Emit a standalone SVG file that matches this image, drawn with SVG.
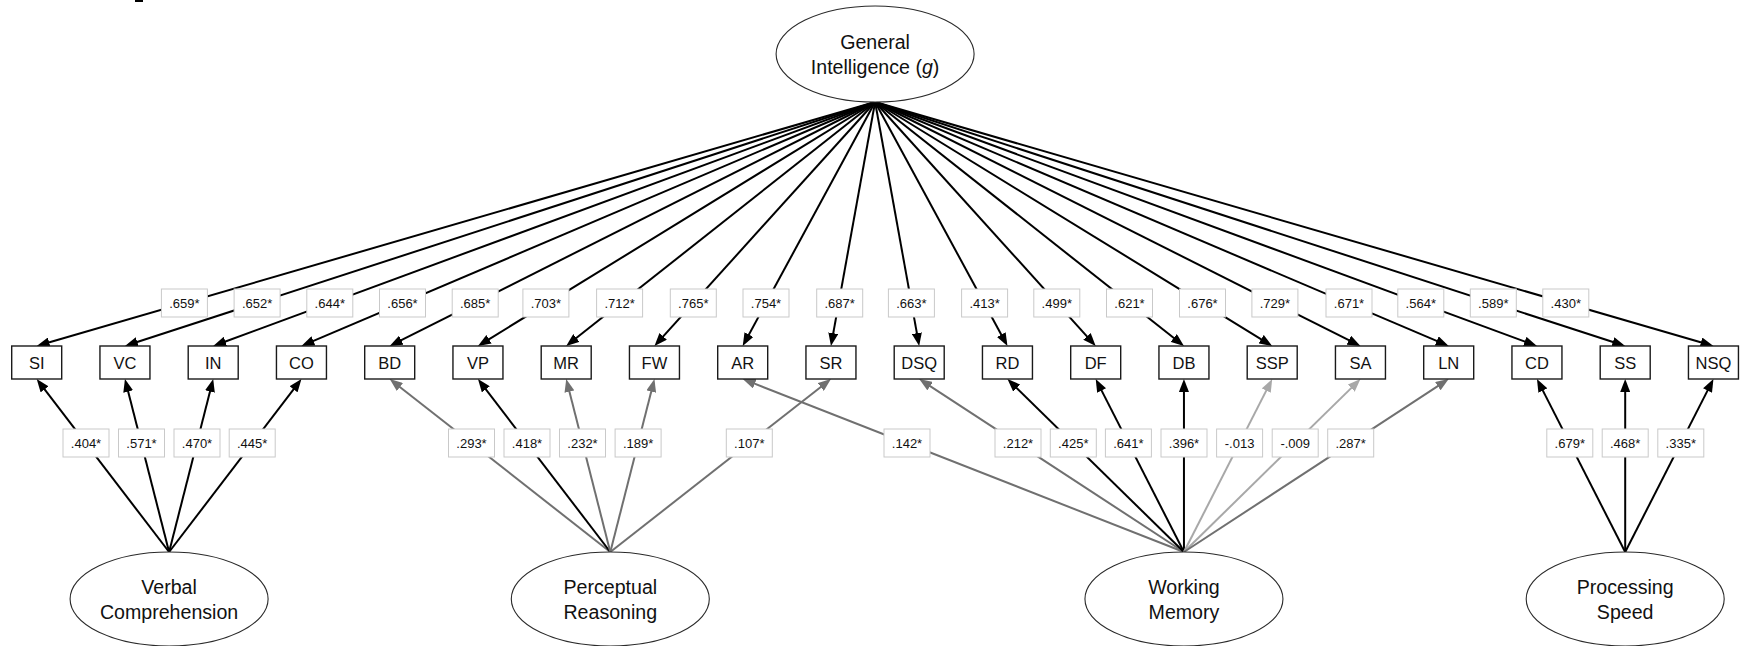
<svg xmlns="http://www.w3.org/2000/svg" width="1741" height="646" viewBox="0 0 1741 646">
<style>
.box{fill:#fff;stroke:#1a1a1a;stroke-width:1.4}
.ell{fill:#fff;stroke:#2a2a2a;stroke-width:1.1}
.bt{font-family:"Liberation Sans",Arial,sans-serif;font-size:16.5px;fill:#111;text-anchor:middle}
.et{font-family:"Liberation Sans",Arial,sans-serif;font-size:19.6px;fill:#111;text-anchor:middle}
.lb{fill:#fff;stroke:#c9c9c9;stroke-width:1}
.lt{font-family:"Liberation Sans",Arial,sans-serif;font-size:13px;fill:#111;text-anchor:middle}
.k{stroke:#000;stroke-width:2;fill:none;marker-end:url(#ak)}
.g{stroke:#707070;stroke-width:2;fill:none;marker-end:url(#ag)}
.l{stroke:#a8a8a8;stroke-width:2;fill:none;marker-end:url(#al)}
</style>
<defs>
<marker id="ak" viewBox="0 0 13 10" markerWidth="13" markerHeight="10" refX="5" refY="5" orient="auto" markerUnits="userSpaceOnUse"><path d="M0,0 L13,5 L0,10 z" fill="#000"/></marker>
<marker id="ag" viewBox="0 0 13 10" markerWidth="13" markerHeight="10" refX="5" refY="5" orient="auto" markerUnits="userSpaceOnUse"><path d="M0,0 L13,5 L0,10 z" fill="#707070"/></marker>
<marker id="al" viewBox="0 0 13 10" markerWidth="13" markerHeight="10" refX="5" refY="5" orient="auto" markerUnits="userSpaceOnUse"><path d="M0,0 L13,5 L0,10 z" fill="#a8a8a8"/></marker>
</defs>
<rect x="135" y="0" width="8" height="2" fill="#000"/>
<g id="connectors">
<line class="k" x1="875.1" y1="102" x2="44.38" y2="343.76"/>
<line class="k" x1="875.1" y1="102" x2="132.56" y2="343.53"/>
<line class="k" x1="875.1" y1="102" x2="220.71" y2="343.23"/>
<line class="k" x1="875.1" y1="102" x2="308.81" y2="342.87"/>
<line class="k" x1="875.1" y1="102" x2="396.85" y2="342.41"/>
<line class="k" x1="875.1" y1="102" x2="484.77" y2="341.81"/>
<line class="k" x1="875.1" y1="102" x2="572.48" y2="341.04"/>
<line class="k" x1="875.1" y1="102" x2="659.82" y2="340.07"/>
<line class="k" x1="875.1" y1="102" x2="746.52" y2="338.97"/>
<line class="k" x1="875.1" y1="102" x2="832.37" y2="338.13"/>
<line class="k" x1="875.1" y1="102" x2="917.78" y2="338.13"/>
<line class="k" x1="875.1" y1="102" x2="1003.64" y2="338.97"/>
<line class="k" x1="875.1" y1="102" x2="1090.33" y2="340.07"/>
<line class="k" x1="875.1" y1="102" x2="1177.67" y2="341.04"/>
<line class="k" x1="875.1" y1="102" x2="1265.38" y2="341.81"/>
<line class="k" x1="875.1" y1="102" x2="1353.30" y2="342.41"/>
<line class="k" x1="875.1" y1="102" x2="1441.34" y2="342.87"/>
<line class="k" x1="875.1" y1="102" x2="1529.44" y2="343.23"/>
<line class="k" x1="875.1" y1="102" x2="1617.59" y2="343.53"/>
<line class="k" x1="875.1" y1="102" x2="1705.77" y2="343.76"/>
<line class="k" x1="169.1" y1="552" x2="41.56" y2="385.35"/>
<line class="k" x1="169.1" y1="552" x2="126.93" y2="386.75"/>
<line class="k" x1="169.1" y1="552" x2="211.22" y2="386.75"/>
<line class="k" x1="169.1" y1="552" x2="296.59" y2="385.35"/>
<line class="g" x1="610.3" y1="552" x2="396.0" y2="383.94"/>
<line class="k" x1="610.3" y1="552" x2="482.81" y2="385.35"/>
<line class="g" x1="610.3" y1="552" x2="568.18" y2="386.75"/>
<line class="g" x1="610.3" y1="552" x2="652.47" y2="386.75"/>
<line class="g" x1="610.3" y1="552" x2="824.65" y2="383.94"/>
<line class="g" x1="1183.95" y1="552" x2="750.15" y2="381.92"/>
<line class="g" x1="1183.95" y1="552" x2="925.9" y2="383.38"/>
<line class="k" x1="1183.95" y1="552" x2="1013.16" y2="384.6"/>
<line class="k" x1="1183.95" y1="552" x2="1099.34" y2="386.13"/>
<line class="k" x1="1183.95" y1="552" x2="1183.95" y2="387"/>
<line class="l" x1="1183.95" y1="552" x2="1268.56" y2="386.13"/>
<line class="l" x1="1183.95" y1="552" x2="1354.74" y2="384.6"/>
<line class="g" x1="1183.95" y1="552" x2="1442.0" y2="383.38"/>
<line class="k" x1="1625.2" y1="552" x2="1540.59" y2="386.13"/>
<line class="k" x1="1625.2" y1="552" x2="1625.2" y2="387"/>
<line class="k" x1="1625.2" y1="552" x2="1709.81" y2="386.13"/>
</g>
<g id="loadings">
<rect class="lb" x="161.4" y="289" width="46" height="28"/><text class="lt" x="184.4" y="307.5">.659*</text>
<rect class="lb" x="234.1" y="289" width="46" height="28"/><text class="lt" x="257.1" y="307.5">.652*</text>
<rect class="lb" x="306.8" y="289" width="46" height="28"/><text class="lt" x="329.8" y="307.5">.644*</text>
<rect class="lb" x="379.5" y="289" width="46" height="28"/><text class="lt" x="402.5" y="307.5">.656*</text>
<rect class="lb" x="452.2" y="289" width="46" height="28"/><text class="lt" x="475.2" y="307.5">.685*</text>
<rect class="lb" x="522.9" y="289" width="46" height="28"/><text class="lt" x="545.9" y="307.5">.703*</text>
<rect class="lb" x="596.6" y="289" width="46" height="28"/><text class="lt" x="619.6" y="307.5">.712*</text>
<rect class="lb" x="670.3" y="289" width="46" height="28"/><text class="lt" x="693.3" y="307.5">.765*</text>
<rect class="lb" x="743.0" y="289" width="46" height="28"/><text class="lt" x="766.0" y="307.5">.754*</text>
<rect class="lb" x="816.7" y="289" width="46" height="28"/><text class="lt" x="839.7" y="307.5">.687*</text>
<rect class="lb" x="888.4" y="289" width="46" height="28"/><text class="lt" x="911.4" y="307.5">.663*</text>
<rect class="lb" x="961.6" y="289" width="46" height="28"/><text class="lt" x="984.6" y="307.5">.413*</text>
<rect class="lb" x="1033.8" y="289" width="46" height="28"/><text class="lt" x="1056.8" y="307.5">.499*</text>
<rect class="lb" x="1106.5" y="289" width="46" height="28"/><text class="lt" x="1129.5" y="307.5">.621*</text>
<rect class="lb" x="1179.5" y="289" width="46" height="28"/><text class="lt" x="1202.5" y="307.5">.676*</text>
<rect class="lb" x="1251.9" y="289" width="46" height="28"/><text class="lt" x="1274.9" y="307.5">.729*</text>
<rect class="lb" x="1326.0" y="289" width="46" height="28"/><text class="lt" x="1349.0" y="307.5">.671*</text>
<rect class="lb" x="1397.8" y="289" width="46" height="28"/><text class="lt" x="1420.8" y="307.5">.564*</text>
<rect class="lb" x="1470.3" y="289" width="46" height="28"/><text class="lt" x="1493.3" y="307.5">.589*</text>
<rect class="lb" x="1542.8" y="289" width="46" height="28"/><text class="lt" x="1565.8" y="307.5">.430*</text>
<rect class="lb" x="63.0" y="429" width="46" height="28"/><text class="lt" x="86.0" y="447.5">.404*</text>
<rect class="lb" x="118.5" y="429" width="46" height="28"/><text class="lt" x="141.5" y="447.5">.571*</text>
<rect class="lb" x="174.0" y="429" width="46" height="28"/><text class="lt" x="197.0" y="447.5">.470*</text>
<rect class="lb" x="229.2" y="429" width="46" height="28"/><text class="lt" x="252.2" y="447.5">.445*</text>
<rect class="lb" x="448.5" y="429" width="46" height="28"/><text class="lt" x="471.5" y="447.5">.293*</text>
<rect class="lb" x="504.0" y="429" width="46" height="28"/><text class="lt" x="527.0" y="447.5">.418*</text>
<rect class="lb" x="559.5" y="429" width="46" height="28"/><text class="lt" x="582.5" y="447.5">.232*</text>
<rect class="lb" x="615.1" y="429" width="46" height="28"/><text class="lt" x="638.1" y="447.5">.189*</text>
<rect class="lb" x="726.3" y="429" width="46" height="28"/><text class="lt" x="749.3" y="447.5">.107*</text>
<rect class="lb" x="884.0" y="429" width="46" height="28"/><text class="lt" x="907.0" y="447.5">.142*</text>
<rect class="lb" x="995.0" y="429" width="46" height="28"/><text class="lt" x="1018.0" y="447.5">.212*</text>
<rect class="lb" x="1050.3" y="429" width="46" height="28"/><text class="lt" x="1073.3" y="447.5">.425*</text>
<rect class="lb" x="1105.4" y="429" width="46" height="28"/><text class="lt" x="1128.4" y="447.5">.641*</text>
<rect class="lb" x="1161.0" y="429" width="46" height="28"/><text class="lt" x="1184.0" y="447.5">.396*</text>
<rect class="lb" x="1216.6" y="429" width="46" height="28"/><text class="lt" x="1239.6" y="447.5">-.013</text>
<rect class="lb" x="1272.2" y="429" width="46" height="28"/><text class="lt" x="1295.2" y="447.5">-.009</text>
<rect class="lb" x="1327.7" y="429" width="46" height="28"/><text class="lt" x="1350.7" y="447.5">.287*</text>
<rect class="lb" x="1546.8" y="429" width="46" height="28"/><text class="lt" x="1569.8" y="447.5">.679*</text>
<rect class="lb" x="1602.2" y="429" width="46" height="28"/><text class="lt" x="1625.2" y="447.5">.468*</text>
<rect class="lb" x="1657.8" y="429" width="46" height="28"/><text class="lt" x="1680.8" y="447.5">.335*</text>
</g>
<g id="g"><ellipse class="ell" cx="875.1" cy="54" rx="99" ry="48"/><text class="et" x="875.1" y="49">General</text><text class="et" x="875.1" y="74">Intelligence (<tspan font-style="italic">g</tspan>)</text></g>
<g id="SI"><rect class="box" x="11.7" y="346" width="50" height="33"/><text class="bt" x="36.7" y="368.5">SI</text></g>
<g id="VC"><rect class="box" x="99.95" y="346" width="50" height="33"/><text class="bt" x="124.95" y="368.5">VC</text></g>
<g id="IN"><rect class="box" x="188.2" y="346" width="50" height="33"/><text class="bt" x="213.2" y="368.5">IN</text></g>
<g id="CO"><rect class="box" x="276.45" y="346" width="50" height="33"/><text class="bt" x="301.45" y="368.5">CO</text></g>
<g id="BD"><rect class="box" x="364.7" y="346" width="50" height="33"/><text class="bt" x="389.7" y="368.5">BD</text></g>
<g id="VP"><rect class="box" x="452.95" y="346" width="50" height="33"/><text class="bt" x="477.95" y="368.5">VP</text></g>
<g id="MR"><rect class="box" x="541.2" y="346" width="50" height="33"/><text class="bt" x="566.2" y="368.5">MR</text></g>
<g id="FW"><rect class="box" x="629.45" y="346" width="50" height="33"/><text class="bt" x="654.45" y="368.5">FW</text></g>
<g id="AR"><rect class="box" x="717.7" y="346" width="50" height="33"/><text class="bt" x="742.7" y="368.5">AR</text></g>
<g id="SR"><rect class="box" x="805.95" y="346" width="50" height="33"/><text class="bt" x="830.95" y="368.5">SR</text></g>
<g id="DSQ"><rect class="box" x="894.2" y="346" width="50" height="33"/><text class="bt" x="919.2" y="368.5">DSQ</text></g>
<g id="RD"><rect class="box" x="982.45" y="346" width="50" height="33"/><text class="bt" x="1007.45" y="368.5">RD</text></g>
<g id="DF"><rect class="box" x="1070.7" y="346" width="50" height="33"/><text class="bt" x="1095.7" y="368.5">DF</text></g>
<g id="DB"><rect class="box" x="1158.95" y="346" width="50" height="33"/><text class="bt" x="1183.95" y="368.5">DB</text></g>
<g id="SSP"><rect class="box" x="1247.2" y="346" width="50" height="33"/><text class="bt" x="1272.2" y="368.5">SSP</text></g>
<g id="SA"><rect class="box" x="1335.45" y="346" width="50" height="33"/><text class="bt" x="1360.45" y="368.5">SA</text></g>
<g id="LN"><rect class="box" x="1423.7" y="346" width="50" height="33"/><text class="bt" x="1448.7" y="368.5">LN</text></g>
<g id="CD"><rect class="box" x="1511.95" y="346" width="50" height="33"/><text class="bt" x="1536.95" y="368.5">CD</text></g>
<g id="SS"><rect class="box" x="1600.2" y="346" width="50" height="33"/><text class="bt" x="1625.2" y="368.5">SS</text></g>
<g id="NSQ"><rect class="box" x="1688.45" y="346" width="50" height="33"/><text class="bt" x="1713.45" y="368.5">NSQ</text></g>
<g id="vc"><ellipse class="ell" cx="169.1" cy="599" rx="99" ry="47"/><text class="et" x="169.1" y="594">Verbal</text><text class="et" x="169.1" y="619">Comprehension</text></g>
<g id="pr"><ellipse class="ell" cx="610.3" cy="599" rx="99" ry="47"/><text class="et" x="610.3" y="594">Perceptual</text><text class="et" x="610.3" y="619">Reasoning</text></g>
<g id="wm"><ellipse class="ell" cx="1183.95" cy="599" rx="99" ry="47"/><text class="et" x="1183.95" y="594">Working</text><text class="et" x="1183.95" y="619">Memory</text></g>
<g id="ps"><ellipse class="ell" cx="1625.2" cy="599" rx="99" ry="47"/><text class="et" x="1625.2" y="594">Processing</text><text class="et" x="1625.2" y="619">Speed</text></g>
</svg>
